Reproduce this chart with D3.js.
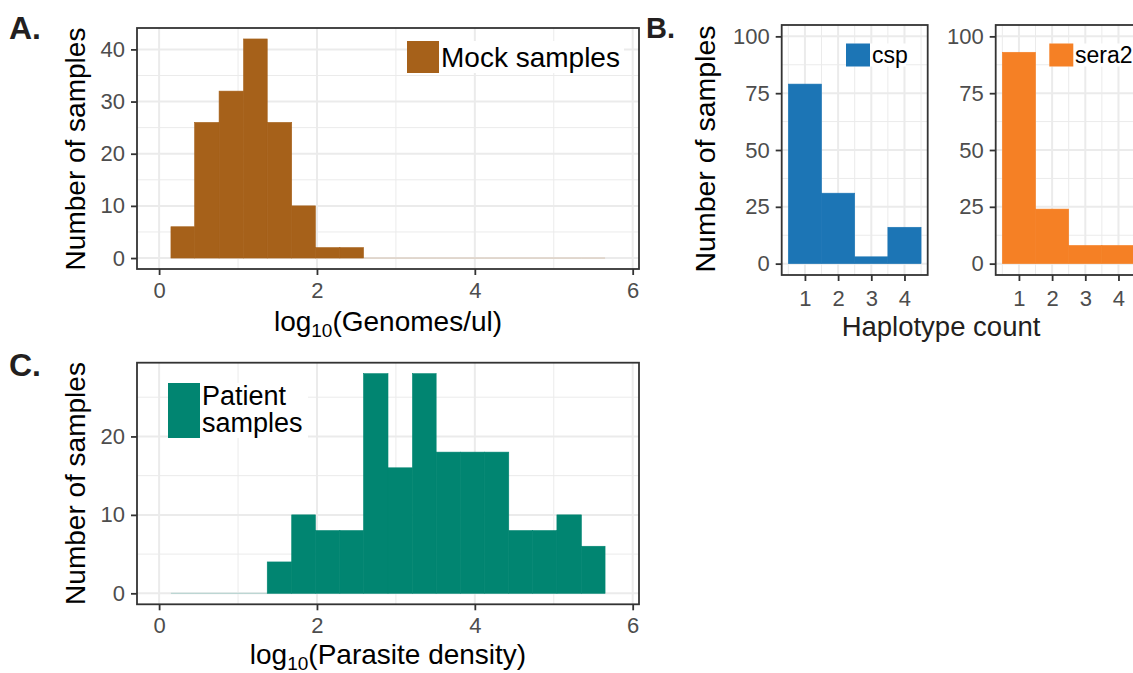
<!DOCTYPE html>
<html>
<head>
<meta charset="utf-8">
<script src="https://cdn.jsdelivr.net/npm/d3@7"></script>
<style>
  html, body { margin: 0; padding: 0; background: #fff; }
  svg { display: block; }
  text { font-family: "Liberation Sans", Arial, Helvetica, sans-serif; }
</style>
</head>
<body>
<svg id="chart" width="1133" height="673"></svg>
<script>
// ---------------- DATA ----------------
const binEdges = [0.15, 0.45, 0.76, 1.07, 1.37, 1.68, 1.98, 2.29, 2.59, 2.90, 3.21, 3.51, 3.82, 4.12, 4.43, 4.73, 5.04, 5.35, 5.65];
const mockCounts    = [6, 26, 32, 42, 26, 10, 2, 2, 0, 0, 0, 0, 0, 0, 0, 0, 0, 0];
const patientCounts = [0, 0, 0, 0, 4, 10, 8, 8, 28, 16, 28, 18, 18, 18, 8, 8, 10, 6];

const haplotypeCats = [1, 2, 3, 4];
const cspCounts   = [79, 31, 3, 16];
const sera2Counts = [93, 24, 8, 8];

const logTicks      = [0, 2, 4, 6];
const logMinor      = [1, 3, 5];
const mockYTicks    = [0, 10, 20, 30, 40];
const mockYMinor    = [5, 15, 25, 35];
const patientYTicks = [0, 10, 20];
const patientYMinor = [5, 15, 25];
const hapYTicks     = [0, 25, 50, 75, 100];
const hapYMinor     = [12.5, 37.5, 62.5, 87.5];
const hapXMinor     = [0.5, 1.5, 2.5, 3.5, 4.5];

// ---------------- STYLE ----------------
const GRID = "#ebebeb", BORDER = "#333333", TICKTXT = "#4d4d4d";
const svg = d3.select("#chart");
const fmt = d3.format("d");

function panel(cfg) {
  const g = svg.append("g");
  const x = cfg.x, y = cfg.y;
  const [x0, x1] = x.range(), [y0, y1] = y.range(); // y0 bottom, y1 top
  g.append("rect").attr("x", x0).attr("y", y1).attr("width", x1 - x0).attr("height", y0 - y1).attr("fill", "#fff");
  const clip = "clip" + Math.round(x0) + "_" + Math.round(y1);
  svg.append("clipPath").attr("id", clip).append("rect")
    .attr("x", x0).attr("y", y1).attr("width", x1 - x0).attr("height", y0 - y1);
  const inner = g.append("g").attr("clip-path", `url(#${clip})`);
  inner.selectAll(null).data(cfg.xMinor).join("line")
    .attr("x1", d => x(d)).attr("x2", d => x(d)).attr("y1", y1).attr("y2", y0)
    .attr("stroke", GRID).attr("stroke-width", 1);
  inner.selectAll(null).data(cfg.yMinor).join("line")
    .attr("y1", d => y(d)).attr("y2", d => y(d)).attr("x1", x0).attr("x2", x1)
    .attr("stroke", GRID).attr("stroke-width", 1);
  inner.selectAll(null).data(cfg.xTicks).join("line")
    .attr("x1", d => x(d)).attr("x2", d => x(d)).attr("y1", y1).attr("y2", y0)
    .attr("stroke", GRID).attr("stroke-width", 2);
  inner.selectAll(null).data(cfg.yTicks).join("line")
    .attr("y1", d => y(d)).attr("y2", d => y(d)).attr("x1", x0).attr("x2", x1)
    .attr("stroke", GRID).attr("stroke-width", 2);
  return { g, inner, x, y, x0, x1, y0, y1 };
}

function finishPanel(p, cfg) {
  const { g, x, y, x0, x1, y0, y1 } = p;
  g.append("rect").attr("x", x0).attr("y", y1).attr("width", x1 - x0).attr("height", y0 - y1)
    .attr("fill", "none").attr("stroke", BORDER).attr("stroke-width", 1.8);
  const ya = g.append("g").attr("transform", `translate(${x0},0)`)
    .call(d3.axisLeft(y).tickValues(cfg.yTicks).tickFormat(fmt).tickSize(6).tickPadding(6));
  ya.select(".domain").remove();
  ya.selectAll(".tick line").attr("stroke", BORDER).attr("stroke-width", 1.8);
  ya.selectAll(".tick text").attr("fill", TICKTXT).attr("font-size", cfg.tickSize)
    .attr("font-family", "Liberation Sans, Arial, sans-serif");
  const xa = g.append("g").attr("transform", `translate(0,${y0})`)
    .call(d3.axisBottom(x).tickValues(cfg.xTicks).tickFormat(fmt).tickSize(6).tickPadding(cfg.xPad || 7));
  xa.select(".domain").remove();
  xa.selectAll(".tick line").attr("stroke", BORDER).attr("stroke-width", 1.8);
  xa.selectAll(".tick text").attr("fill", TICKTXT).attr("font-size", cfg.tickSize)
    .attr("font-family", "Liberation Sans, Arial, sans-serif");
}

function histBars(p, counts, color) {
  const bins = counts.map((c, i) => ({ a: binEdges[i], b: binEdges[i + 1], c }));
  p.inner.selectAll(null).data(bins).join("rect")
    .attr("x", d => p.x(d.a)).attr("width", d => p.x(d.b) - p.x(d.a))
    .attr("y", d => d.c > 0 ? p.y(d.c) : p.y(0) - 0.6)
    .attr("height", d => d.c > 0 ? p.y(0) - p.y(d.c) : 1.2)
    .attr("fill", color).attr("fill-opacity", d => d.c > 0 ? 1 : 0.22)
    .attr("stroke", d => d.c > 0 ? color : "none").attr("stroke-width", 0.6);
}

function catBars(p, counts, color) {
  p.inner.selectAll(null).data(haplotypeCats.map((k, i) => ({ k, c: counts[i] }))).join("rect")
    .attr("x", d => p.x(d.k - 0.5)).attr("width", d => p.x(d.k + 0.5) - p.x(d.k - 0.5))
    .attr("y", d => p.y(d.c)).attr("height", d => p.y(0) - p.y(d.c))
    .attr("fill", color).attr("stroke", color).attr("stroke-width", 0.6);
}

function legend(p, bx, by, kw, kh, lines, color, fs, textX, baselines, bgW) {
  p.g.append("rect").attr("x", bx).attr("y", by).attr("width", bgW).attr("height", kh).attr("fill", "#fff");
  p.g.append("rect").attr("x", bx).attr("y", by).attr("width", kw).attr("height", kh).attr("fill", color);
  lines.forEach((t, i) => {
    p.g.append("text").attr("x", textX).attr("y", baselines[i]).attr("font-size", fs)
      .attr("fill", "#000").text(t);
  });
}

function yTitle(x, yc, text, fs) {
  svg.append("text").attr("transform", `translate(${x},${yc}) rotate(-90)`)
    .attr("text-anchor", "middle").attr("font-size", fs).attr("fill", "#000").text(text);
}

function logTitle(xc, yb, inner) {
  const t = svg.append("text").attr("x", xc).attr("y", yb).attr("text-anchor", "middle")
    .attr("font-size", 28).attr("fill", "#000");
  t.append("tspan").text("log");
  t.append("tspan").attr("font-size", 19).attr("dy", 6).text("10");
  t.append("tspan").attr("dy", -6).text("(" + inner + ")");
}

// ---------------- PANEL A ----------------
const xLog = () => d3.scaleLinear().domain([-0.28, 6.08]);
const pA = panel({
  x: xLog().range([137, 639]),
  y: d3.scaleLinear().domain([-2.1, 44.1]).range([269, 28]),
  xTicks: logTicks, xMinor: logMinor, yTicks: mockYTicks, yMinor: mockYMinor
});
histBars(pA, mockCounts, "#a6611a");
legend(pA, 407, 41, 32, 32, ["Mock samples"], "#a6611a", 28, 441, [67], 217);
finishPanel(pA, { xTicks: logTicks, yTicks: mockYTicks, tickSize: 22 });
yTitle(85, 149, "Number of samples", 28);
logTitle(388, 331, "Genomes/ul");
svg.append("text").attr("x", 9).attr("y", 39).attr("font-size", 32).attr("font-weight", "bold")
  .attr("fill", "#231f20").text("A.");

// ---------------- PANEL C ----------------
const pC = panel({
  x: xLog().range([137, 639]),
  y: d3.scaleLinear().domain([-1.4, 29.4]).range([604.3, 362.7]),
  xTicks: logTicks, xMinor: logMinor, yTicks: patientYTicks, yMinor: patientYMinor
});
histBars(pC, patientCounts, "#018571");
legend(pC, 168, 383, 32, 55, ["Patient", "samples"], "#018571", 27, 202, [405, 432], 140);
finishPanel(pC, { xTicks: logTicks, yTicks: patientYTicks, tickSize: 22 });
yTitle(85, 483.5, "Number of samples", 28);
logTitle(388, 664, "Parasite density");
svg.append("text").attr("x", 9).attr("y", 376).attr("font-size", 32).attr("font-weight", "bold")
  .attr("fill", "#231f20").text("C.");

// ---------------- PANEL B ----------------
const hapY = () => d3.scaleLinear().domain([-5, 105]).range([275, 25]);
const pB1 = panel({
  x: d3.scaleLinear().domain([0.3, 4.7]).range([781.7, 927.7]), y: hapY(),
  xTicks: haplotypeCats, xMinor: hapXMinor, yTicks: hapYTicks, yMinor: hapYMinor
});
catBars(pB1, cspCounts, "#1c75b5");
legend(pB1, 846, 43.5, 24, 23, ["csp"], "#1c75b5", 23, 872, [62.5], 60);
finishPanel(pB1, { xTicks: haplotypeCats, yTicks: hapYTicks, tickSize: 22, xPad: 9 });

const pB2 = panel({
  x: d3.scaleLinear().domain([0.3, 4.7]).range([995.7, 1141.7]), y: hapY(),
  xTicks: haplotypeCats, xMinor: hapXMinor, yTicks: hapYTicks, yMinor: hapYMinor
});
catBars(pB2, sera2Counts, "#f58025");
legend(pB2, 1049.3, 43.5, 24, 23, ["sera2"], "#f58025", 23, 1075, [62.5], 90);
finishPanel(pB2, { xTicks: haplotypeCats, yTicks: hapYTicks, tickSize: 22, xPad: 9 });

yTitle(715, 149, "Number of samples", 28.5);
svg.append("text").attr("x", 941).attr("y", 336).attr("text-anchor", "middle")
  .attr("font-size", 27.5).attr("font-family", "Open Sans, Lato, sans-serif").attr("fill", "#231f20")
  .text("Haplotype count");
svg.append("text").attr("x", 646).attr("y", 38).attr("font-size", 29).attr("font-weight", "bold")
  .attr("font-family", "Open Sans, Liberation Sans, sans-serif")
  .attr("fill", "#231f20").text("B.");
</script>
</body>
</html>
